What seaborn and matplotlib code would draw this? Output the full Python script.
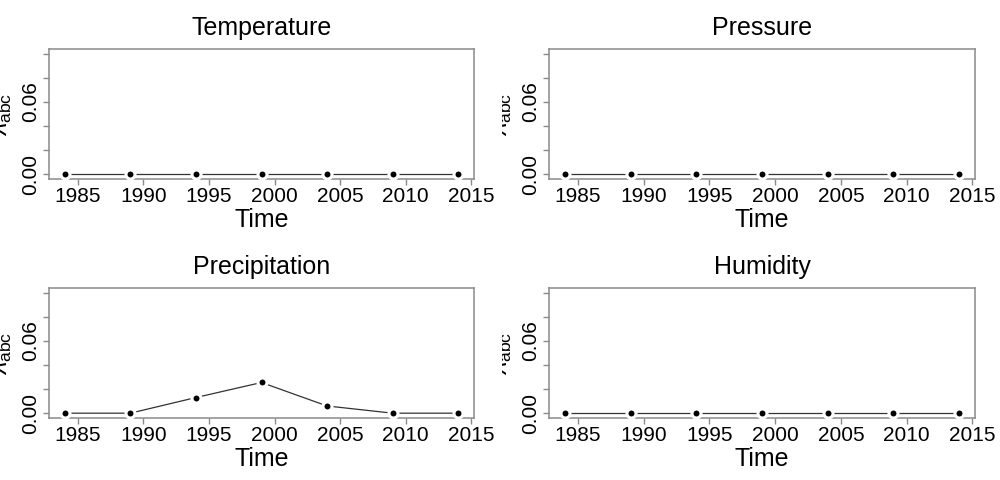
import numpy as np
import pandas as pd
import matplotlib
matplotlib.use("Agg")
import matplotlib.pyplot as plt
import seaborn as sns
from matplotlib.transforms import Bbox

years = [1984, 1989, 1994, 1999, 2004, 2009, 2014]
titles = ["Temperature", "Pressure", "Precipitation", "Humidity"]
temperature = [0.0, 0.0, 0.0, 0.0, 0.0, 0.0, 0.0]
pressure = [0.0, 0.0, 0.0, 0.0, 0.0, 0.0, 0.0]
precipitation = [0.0, 0.0, 0.013, 0.0255, 0.006, 0.0, 0.0]
humidity = [0.0, 0.0, 0.0, 0.0, 0.0, 0.0, 0.0]
xticks = [1985, 1990, 1995, 2000, 2005, 2010, 2015]
yticks = [0.00, 0.02, 0.04, 0.06, 0.08, 0.10]
ytick_labels = ["0.00", "", "", "0.06", "", ""]

series = [temperature, pressure, precipitation, humidity]

sns.set_theme(style="white")
plt.rcParams['font.family'] = ['Liberation Sans', 'DejaVu Sans']
plt.rcParams['mathtext.fontset'] = 'custom'
plt.rcParams['mathtext.rm'] = 'Liberation Sans'
plt.rcParams['mathtext.it'] = 'Liberation Sans:italic'

W, H = 1000, 480
fig = plt.figure(figsize=(10, 4.8), dpi=100)

# axes boxes in pixels: (left, top, right, bottom)
boxes = [(49, 49, 474, 179), (549, 49, 975, 179),
         (49, 288, 474, 418), (549, 288, 975, 418)]
clip_left = [0, 502, 0, 502]
frame_col = "#8a8a8a"

for i, (title, vals) in enumerate(zip(titles, series)):
    l, t, r, b = boxes[i]
    ax = fig.add_axes([l / W, 1 - b / H, (r - l) / W, (b - t) / H])
    df = pd.DataFrame({"Time": years, "value": vals})
    sns.lineplot(data=df, x="Time", y="value", ax=ax, color="#333333",
                 linewidth=0.9, zorder=2)
    ax.plot(df["Time"], df["value"], linestyle="none", marker="o",
            markersize=6.5, markerfacecolor="black", markeredgecolor="white",
            markeredgewidth=2.2, zorder=3)
    ax.set_xlim(1982.8, 2015.2)
    ax.set_ylim(-0.004, 0.104)
    ax.set_xticks(xticks)
    ax.set_xticklabels([str(x) for x in xticks], fontsize=15)
    ax.set_yticks(yticks)
    ax.set_yticklabels(ytick_labels, fontsize=15, rotation=90, va="center")
    for s in ax.spines.values():
        s.set_color(frame_col)
        s.set_linewidth(1.1)
    ax.tick_params(axis="both", which="both", length=4.5, width=1.0,
                   color=frame_col, labelcolor="black", direction="out",
                   bottom=True, left=True)
    ax.tick_params(axis="x", pad=1)
    ax.tick_params(axis="y", pad=2)
    ax.set_title(title, fontsize=18, pad=10, color="black")
    ax.set_xlabel("Time", fontsize=18, labelpad=2, color="black")
    ax.set_ylabel(r"$\lambda_{\mathrm{abc}}$", fontsize=18, color="black")
    ax.yaxis.set_label_coords(-35 / (r - l), 0.5)
    lab = ax.yaxis.label
    cb = Bbox.from_extents(clip_left[i], 0, W, H)
    lab.set_clip_box(cb)
    lab.set_clip_on(True)

fig.savefig("out.png", dpi=100, facecolor="white")
